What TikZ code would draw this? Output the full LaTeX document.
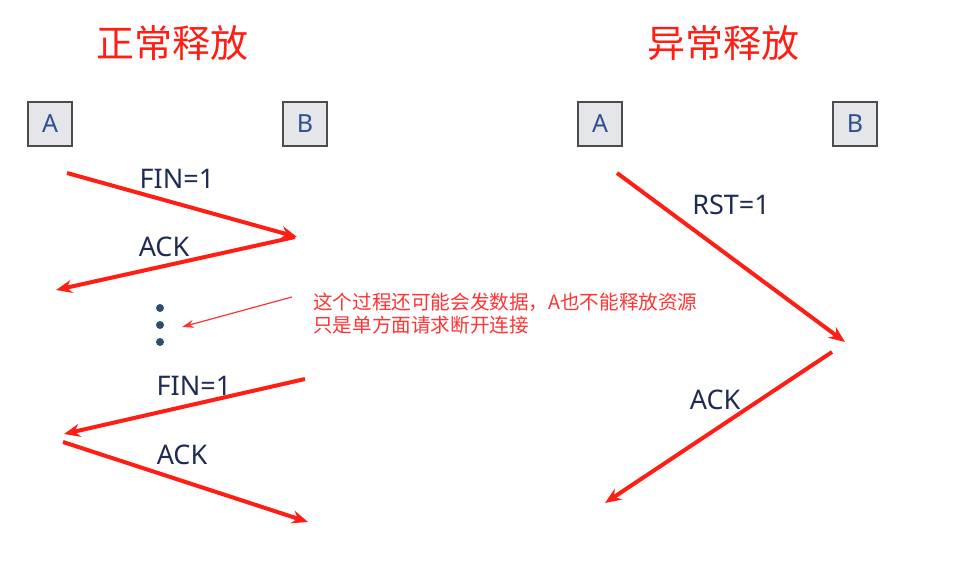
\documentclass[tikz,border=0pt]{standalone}
\usepackage{fontspec}
\setmainfont{Noto Sans}
\newfontfamily\cjk{Noto Sans CJK SC}
\usetikzlibrary{arrows.meta}
\definecolor{Cred}{HTML}{FF1E14}
\definecolor{Cnote}{HTML}{FF3333}
\definecolor{Ctext}{HTML}{1F2B55}
\definecolor{Chost}{HTML}{2E5090}
\definecolor{Cdot}{HTML}{2A4C78}
\definecolor{Cfill}{HTML}{E4E6EA}
\tikzset{
  hostbox/.style={draw=black!70, fill=Cfill, line width=1.6pt,
    minimum size=44pt, inner sep=0pt, text=Chost,
    font=\fontsize{25}{25}\selectfont},
  title/.style={text=Cred, font=\cjk\fontsize{38}{38}\selectfont},
  msg/.style={text=Ctext, font=\fontsize{27}{27}\selectfont},
  note/.style={text=Cnote, align=left, anchor=west, inner sep=0pt,
    font=\cjk\fontsize{19.6}{23}\selectfont},
  dotmark/.style={circle, fill=Cdot, minimum size=8pt, inner sep=0pt},
  arr/.style={-{Stealth[length=16pt, width=13pt]}, line width=4pt, Cred},
  notearr/.style={-{Stealth[length=12pt, width=8pt]}, line width=1.2pt, Cnote},
}
\begin{document}
\begin{tikzpicture}[x=1pt, y=-1pt]
\useasboundingbox (0,0) rectangle (957,564);

%% left: normal release
\node[title] (tnorm) at (172,43) {正常释放};
\node[hostbox] (la) at (50,124)  {A};
\node[hostbox] (lb) at (305,124) {B};

\coordinate (l1s) at (67,173);
\coordinate (l1e) at (297,237);
\coordinate (l2s) at (295,237);
\coordinate (l2e) at (56,290);
\coordinate (l3s) at (305,379);
\coordinate (l3e) at (64,434);
\coordinate (l4s) at (63,442);
\coordinate (l4e) at (308,522);

\draw[arr] (l1s) -- (l1e);
\draw[arr] (l2s) -- (l2e);
\draw[arr] (l3s) -- (l3e);
\draw[arr] (l4s) -- (l4e);

\node[msg] (fin1) at (177,179) {FIN=1};
\node[msg] (ack1) at (164,247) {ACK};
\node[msg] (fin2) at (194,386) {FIN=1};
\node[msg] (ack2) at (182,455) {ACK};

%% dots and the note
\node[dotmark] (dot1) at (160,308) {};
\node[dotmark] (dot2) at (160,325) {};
\node[dotmark] (dot3) at (160,342) {};

\node[note] (txt) at (313,314)
  {这个过程还可能会发数据，A也不能释放资源\\只是单方面请求断开连接};
\coordinate (ntail) at (292,297);
\coordinate (ntip)  at (182,327);
\draw[notearr] (ntail) -- (ntip);

%% right: abnormal release
\node[title] (tabn) at (723,43) {异常释放};
\node[hostbox] (ra) at (600,124) {A};
\node[hostbox] (rb) at (855,124) {B};

\coordinate (r1s) at (617,173);
\coordinate (r1e) at (845,342);
\coordinate (r2s) at (832,352);
\coordinate (r2e) at (605,503);

\draw[arr] (r1s) -- (r1e);
\draw[arr] (r2s) -- (r2e);

\node[msg] (rst) at (731,205) {RST=1};
\node[msg] (ack3) at (715,400) {ACK};

\end{tikzpicture}
\end{document}
